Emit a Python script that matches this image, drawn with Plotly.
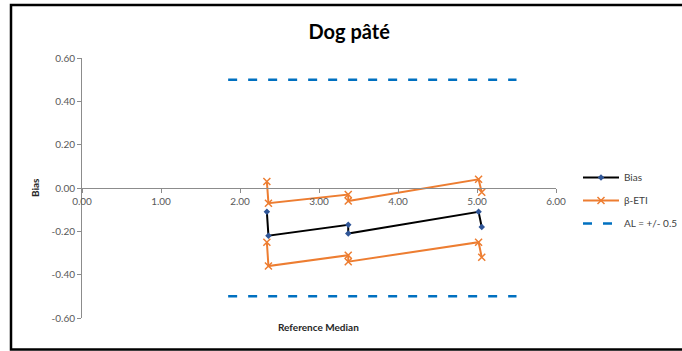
import plotly.graph_objects as go

# Reference medians (x) and bias values, paired points per level
ref_median = [2.34, 2.36, 3.37, 3.37, 5.02, 5.06]
bias = [-0.11, -0.22, -0.17, -0.21, -0.11, -0.18]
eti_upper = [0.03, -0.07, -0.03, -0.06, 0.04, -0.02]
eti_lower = [-0.25, -0.36, -0.31, -0.34, -0.25, -0.32]

# Acceptance limits
al_x = [1.85, 5.5]
al_level = 0.5

x_ticks = [0, 1, 2, 3, 4, 5, 6]
x_tick_text = ["0.00", "1.00", "2.00", "3.00", "4.00", "5.00", "6.00"]
y_ticks = [-0.6, -0.4, -0.2, 0.0, 0.2, 0.4, 0.6]
y_tick_text = ["-0.60", "-0.40", "-0.20", "0.00", "0.20", "0.40", "0.60"]

FONT = "Lato"
TICK_COLOR = "#595959"
AXIS_COLOR = "#8c8c8c"
ORANGE = "#ED7D31"
BLUE = "#0070C0"

fig = go.Figure()

fig.add_trace(go.Scatter(
    x=ref_median, y=bias, mode="lines+markers", name="Bias",
    line=dict(color="black", width=2),
    marker=dict(symbol="diamond", size=5, color="#2F5597"),
))
fig.add_trace(go.Scatter(
    x=ref_median, y=eti_upper, mode="lines+markers", name="β-ETI",
    legendgroup="eti",
    line=dict(color=ORANGE, width=2),
    marker=dict(symbol="x-thin", size=7, color=ORANGE, line=dict(color=ORANGE, width=1.5)),
))
fig.add_trace(go.Scatter(
    x=ref_median, y=eti_lower, mode="lines+markers", name="β-ETI",
    legendgroup="eti", showlegend=False,
    line=dict(color=ORANGE, width=2),
    marker=dict(symbol="x-thin", size=7, color=ORANGE, line=dict(color=ORANGE, width=1.5)),
))
fig.add_trace(go.Scatter(
    x=al_x, y=[al_level, al_level], mode="lines", name="AL = +/- 0.5",
    legendgroup="al",
    line=dict(color=BLUE, width=2.5, dash="9px,11px"),
))
fig.add_trace(go.Scatter(
    x=al_x, y=[-al_level, -al_level], mode="lines", name="AL = +/- 0.5",
    legendgroup="al", showlegend=False,
    line=dict(color=BLUE, width=2.5, dash="9px,11px"),
))

fig.update_layout(
    width=682, height=351,
    margin=dict(l=82, r=126, t=58, b=33, autoexpand=False),
    paper_bgcolor="white", plot_bgcolor="white",
    font=dict(family=FONT, size=10, color=TICK_COLOR),
    title=dict(text="<b>Dog pâté</b>", x=0.512, xanchor="center", y=0.91, yanchor="middle",
               font=dict(family=FONT, size=20, color="black")),
    showlegend=True,
    legend=dict(xref="container", yref="container",
                x=578 / 682, y=(351 - 163) / 351, xanchor="left", yanchor="top",
                font=dict(family=FONT, size=10, color="#404040"),
                tracegroupgap=4, itemwidth=36, bgcolor="rgba(0,0,0,0)"),
    xaxis=dict(
        range=[0, 6], tickvals=x_ticks, ticktext=x_tick_text,
        showgrid=False, zeroline=False,
        showline=True, linecolor=AXIS_COLOR, linewidth=1,
        ticks="outside", ticklen=4, tickcolor=AXIS_COLOR,
        anchor="free", position=0.5,
        tickfont=dict(family=FONT, size=10, color=TICK_COLOR),
    ),
    yaxis=dict(
        range=[-0.6, 0.6], tickvals=y_ticks, ticktext=y_tick_text,
        showgrid=False, zeroline=False,
        showline=True, linecolor=AXIS_COLOR, linewidth=1,
        ticks="outside", ticklen=4, tickcolor=AXIS_COLOR,
        tickfont=dict(family=FONT, size=10, color=TICK_COLOR),
    ),
    annotations=[
        dict(text="<b>Reference Median</b>", xref="paper", yref="paper",
             x=(318 - 82) / 474, y=(318 - 327) / 260, showarrow=False,
             xanchor="center", yanchor="middle",
             font=dict(family=FONT, size=10, color="#262626")),
        dict(text="<b>Bias</b>", xref="paper", yref="paper",
             x=(35 - 82) / 474, y=0.5, showarrow=False, textangle=-90,
             xanchor="center", yanchor="middle",
             font=dict(family=FONT, size=10, color="#262626")),
    ],
    shapes=[
        # chart frame
        dict(type="rect", xref="paper", yref="paper",
             x0=(11 - 82) / 474, x1=(700 - 82) / 474,
             y0=(318 - 349.5) / 260, y1=(318 - 5) / 260,
             line=dict(color="black", width=2.5), fillcolor="rgba(0,0,0,0)", layer="below"),
    ],
)

fig.write_html("out.html")
